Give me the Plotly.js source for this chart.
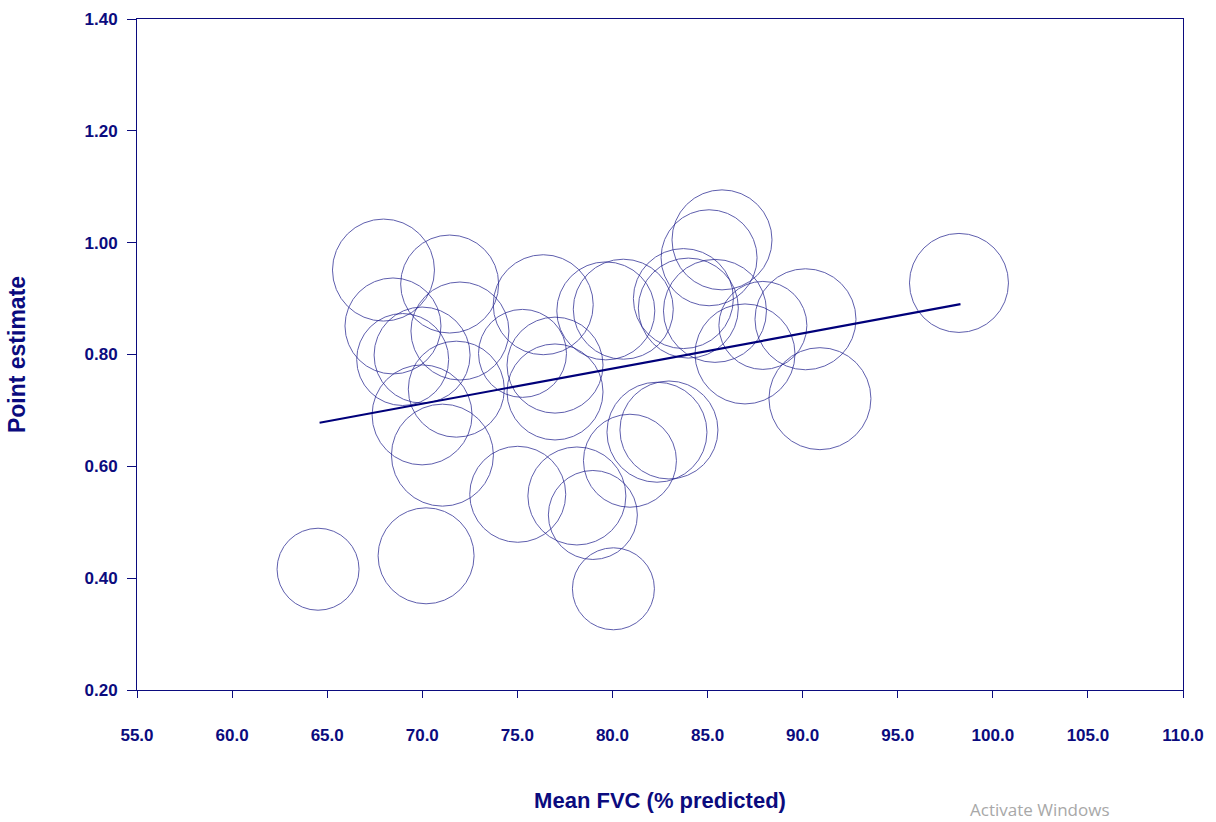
<!DOCTYPE html>
<html>
<head>
<meta charset="utf-8">
<script src="https://cdn.plot.ly/plotly-3.0.1.min.js"></script>
<style>
  html, body { margin: 0; padding: 0; background: #ffffff; }
  #chart { width: 1216px; height: 822px; }
</style>
</head>
<body>
<div id="chart"></div>
<script>
// Study-level mean FVC (% predicted) against the point estimate
const meanFVC = [
  64.52, 67.96, 71.44, 68.46, 71.98, 68.97, 69.99, 71.79, 69.99, 71.06,
  70.20, 75.27, 76.36, 76.98, 76.98, 75.02, 78.13, 78.97, 80.05, 79.65,
  80.57, 80.92, 82.34, 82.97, 83.73, 83.99, 85.39, 85.08, 85.76, 86.97,
  87.91, 90.15, 90.91, 98.22
];
const pointEstimate = [
  0.416, 0.951, 0.926, 0.851, 0.842, 0.791, 0.799, 0.738, 0.692, 0.620,
  0.440, 0.802, 0.889, 0.781, 0.733, 0.550, 0.547, 0.513, 0.381, 0.878,
  0.881, 0.610, 0.661, 0.665, 0.900, 0.883, 0.878, 0.973, 1.005, 0.801,
  0.852, 0.863, 0.721, 0.928
];
// Relative study weights (bubble diameter)
const studyWeight = [
  8.2, 10.2, 9.8, 9.6, 9.8, 9.2, 9.6, 9.6, 10.0, 10.2,
  9.6, 8.8, 10.0, 9.6, 9.6, 9.6, 9.8, 8.9, 8.2, 9.8,
  10.0, 9.3, 10.0, 9.8, 10.0, 10.0, 10.3, 9.6, 10.0, 10.0,
  8.8, 10.1, 10.2, 9.9
];
// Meta-regression fitted line end points
const fitX = [64.6, 98.3];
const fitY = [0.678, 0.890];

const xTicks = [55, 60, 65, 70, 75, 80, 85, 90, 95, 100, 105, 110];
const yTicks = [0.20, 0.40, 0.60, 0.80, 1.00, 1.20, 1.40];

const navy = '#0b0b7e';
const labelFont = { family: 'Liberation Sans, Arial, sans-serif', size: 17, color: navy, weight: 'bold' };
const titleFont = { family: 'Liberation Sans, Arial, sans-serif', size: 22, color: navy, weight: 'bold' };

const bubbles = {
  type: 'scatter',
  mode: 'markers',
  x: meanFVC,
  y: pointEstimate,
  marker: {
    size: studyWeight,
    sizemode: 'diameter',
    sizeref: 0.1,
    color: 'rgba(0,0,0,0)',
    line: { color: '#1c1c8c', width: 1 }
  },
  hoverinfo: 'x+y',
  showlegend: false
};

const fitLine = {
  type: 'scatter',
  mode: 'lines',
  x: fitX,
  y: fitY,
  line: { color: '#00007a', width: 2.2 },
  hoverinfo: 'skip',
  showlegend: false
};

const layout = {
  width: 1216,
  height: 822,
  paper_bgcolor: '#ffffff',
  plot_bgcolor: '#ffffff',
  margin: { l: 137, r: 33, t: 19, b: 132 },
  xaxis: {
    range: [55, 110],
    tickvals: xTicks,
    tickformat: '.1f',
    ticks: 'outside',
    ticklen: 7,
    tickwidth: 1,
    tickcolor: navy,
    ticklabelstandoff: 23,
    showline: true,
    linecolor: navy,
    linewidth: 1,
    mirror: true,
    showgrid: false,
    zeroline: false,
    tickfont: labelFont,
    title: { text: 'Mean FVC (% predicted)', font: titleFont, standoff: 48 },
    automargin: false
  },
  yaxis: {
    range: [0.20, 1.40],
    tickvals: yTicks,
    tickformat: '.2f',
    ticks: 'outside',
    ticklen: 9,
    tickwidth: 1,
    tickcolor: navy,
    ticklabelstandoff: 6,
    showline: true,
    linecolor: navy,
    linewidth: 1,
    mirror: true,
    showgrid: false,
    zeroline: false,
    tickfont: labelFont,
    title: { text: 'Point estimate', font: { family: titleFont.family, size: 23, color: navy, weight: 'bold' }, standoff: 52 },
    automargin: false
  },
  annotations: [{
    text: 'Activate Windows',
    xref: 'paper', yref: 'paper',
    x: 0.863, y: -0.178,
    xanchor: 'center', yanchor: 'middle',
    showarrow: false,
    font: { family: 'Open Sans, Noto Sans, sans-serif', size: 17, color: '#a8a8a8' }
  }]
};

Plotly.newPlot('chart', [bubbles, fitLine], layout, { displayModeBar: false, staticPlot: true });
</script>
</body>
</html>
